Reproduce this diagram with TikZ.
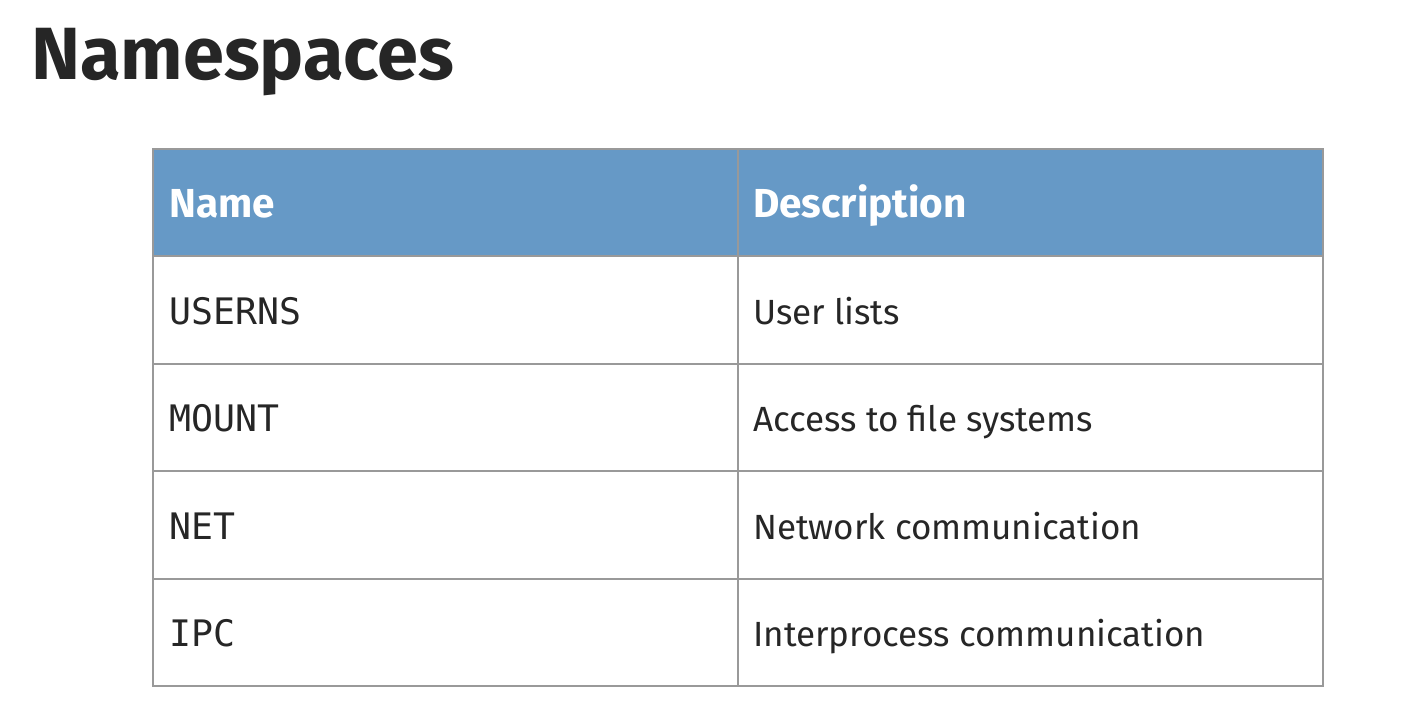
\documentclass[tikz,border=0pt]{standalone}
\usepackage{fontspec}
\setmainfont{Fira Sans}
\setmonofont{DejaVu Sans Mono}
\definecolor{hdr}{HTML}{6699C6}
\definecolor{grid}{HTML}{999999}
\definecolor{ink}{HTML}{262626}
\begin{document}
\begin{tikzpicture}[x=1pt,y=-1pt,
  cell/.style={anchor=base west,inner sep=0pt,text=ink,font=\fontsize{35}{38}\selectfont},
  namecell/.style={anchor=base west,inner sep=0pt,text=ink,font=\ttfamily\fontsize{36.5}{40}\selectfont},
  headcell/.style={anchor=base west,inner sep=0pt,text=white,font=\bfseries\fontsize{40.5}{44}\selectfont}]
\useasboundingbox (0,0) rectangle (1422,715);
\fill[white] (0,0) rectangle (1422,715);
\node[anchor=base west,inner sep=0pt,text=ink,font=\bfseries\fontsize{74}{80}\selectfont] (title) at (31,79) {Namespaces};
\fill[hdr] (153,149) rectangle (1323,256);
\draw[grid,line width=1.5pt] (153,149) rectangle (1323,686);
\foreach \y in {256,364,471,579} \draw[grid,line width=1.5pt] (153,\y) -- (1323,\y);
\draw[grid,line width=1.5pt] (738,149) -- (738,686);
\node[headcell] (h1) at (169,217) {Name};
\node[headcell] (h2) at (753,217) {Description};
\node[namecell] (n1) at (169,324) {USERNS};
\node[namecell] (n2) at (169,431) {MOUNT};
\node[namecell] (n3) at (169,539) {NET};
\node[namecell] (n4) at (169,646) {IPC};
\node[cell] (d1) at (753,324) {User lists};
\node[cell] (d2) at (753,431) {Access to file systems};
\node[cell] (d3) at (753,539) {Network communication};
\node[cell] (d4) at (753,646) {Interprocess communication};
\end{tikzpicture}
\end{document}
